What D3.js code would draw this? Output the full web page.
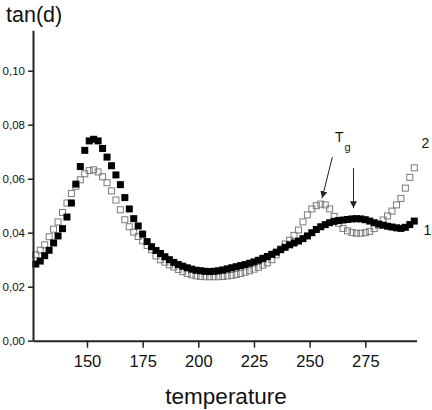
<!DOCTYPE html>
<html>
<head>
<meta charset="utf-8">
<script src="https://cdn.jsdelivr.net/npm/d3@7"></script>
<style>
  body { margin: 0; background: #fff; }
  svg { display: block; font-family: "Liberation Sans", Arial, sans-serif; }
</style>
</head>
<body>
<div id="chart"></div>
<script>
// temperatures of the measured points
var temperature = [127,129,131,133,135,137,139,141,143,145,147,149,151,153,155,157,159,161,163,165,
  167,169,171,173,175,177,179,181,183,185,187,189,191,193,195,197,199,201,203,205,
  207,209,211,213,215,217,219,221,223,225,227,229,231,233,235,237,239,241,243,245,
  247,249,251,253,255,257,259,261,263,265,267,269,271,273,275,277,279,281,283,285,
  287,289,291,293,295,297]

// curve 1, filled squares
var tanFilled = [0.0284,0.0295,0.0315,0.0335,0.0362,0.0388,0.0415,0.0458,0.0510,0.0580,
  0.0645,0.0705,0.0740,0.0746,0.0740,0.0712,0.0680,0.0648,0.0614,0.0578,
  0.0530,0.0488,0.0452,0.0425,0.0395,0.0367,0.0348,0.0334,0.0323,0.0311,
  0.0300,0.0290,0.0282,0.0276,0.0270,0.0265,0.0261,0.0259,0.0257,0.0256,
  0.0257,0.0259,0.0262,0.0266,0.0270,0.0274,0.0278,0.0282,0.0287,0.0292,
  0.0298,0.0305,0.0312,0.0320,0.0328,0.0337,0.0346,0.0355,0.0362,0.0369,
  0.0378,0.0388,0.0400,0.0412,0.0422,0.0430,0.0437,0.0442,0.0445,0.0447,
  0.0449,0.0451,0.0452,0.0451,0.0448,0.0443,0.0437,0.0432,0.0428,0.0424,
  0.0421,0.0418,0.0416,0.0420,0.0430,0.0443]

// curve 2, open squares
var tanOpen = [0.0318,0.0335,0.0355,0.0385,0.0413,0.0440,0.0475,0.0510,0.0545,0.0572,
  0.0596,0.0618,0.0630,0.0633,0.0625,0.0607,0.0585,0.0555,0.0521,0.0485,
  0.0448,0.0422,0.0402,0.0386,0.0370,0.0353,0.0337,0.0314,0.0300,0.0291,
  0.0281,0.0273,0.0264,0.0256,0.0249,0.0244,0.0240,0.0238,0.0237,0.0237,
  0.0237,0.0237,0.0238,0.0240,0.0242,0.0245,0.0249,0.0254,0.0259,0.0265,
  0.0272,0.0280,0.0288,0.0300,0.0318,0.0340,0.0358,0.0372,0.0390,0.0410,
  0.0440,0.0466,0.0488,0.0500,0.0506,0.0503,0.0488,0.0460,0.0435,0.0416,
  0.0407,0.0401,0.0398,0.0398,0.0400,0.0405,0.0415,0.0428,0.0447,0.0462,
  0.0480,0.0503,0.0527,0.0565,0.0605,0.0640]

var xMajor = [150, 175, 200, 225, 250, 275]
var xMinor = [137.5, 162.5, 187.5, 212.5, 237.5, 262.5, 287.5]
var yMajor = [0, 0.02, 0.04, 0.06, 0.08, 0.10]
var yMinor = [0.01, 0.03, 0.05, 0.07, 0.09, 0.11]

// Tg arrows: [fromT, fromTan, toT, toTan]
var arrows = [[260.2, 0.0680, 255.6, 0.0528], [269.7, 0.0639, 269.7, 0.0491]]

var width = 432,
    height = 410

var x = d3.scaleLinear().domain([125.75, 298]).range([33, 416.5])
var y = d3.scaleLinear().domain([0, 0.115]).range([340.7, 30.2])

var svg = d3.select('#chart')
    .append('svg')
    .attr('width', width)
    .attr('height', height)

svg.append('defs').append('marker')
    .attr('id', 'head')
    .attr('viewBox', '0 0 10 10')
    .attr('refX', 10)
    .attr('refY', 5)
    .attr('markerWidth', 7)
    .attr('markerHeight', 7)
    .attr('markerUnits', 'userSpaceOnUse')
    .attr('orient', 'auto')
    .append('path')
    .attr('d', 'M0,0L10,5L0,10z')
    .attr('fill', '#222')

var points = temperature.map(function(t, i) {
    return { t: t, a: tanFilled[i], b: tanOpen[i] }
})

var size = 7

// open squares
svg.append('g').selectAll('rect')
    .data(points)
    .enter()
    .append('rect')
    .attr('x', function(d) { return x(d.t) - size / 2 + 0.5 })
    .attr('y', function(d) { return y(d.b) - size / 2 + 0.5 })
    .attr('width', size - 1)
    .attr('height', size - 1)
    .attr('fill', 'none')
    .attr('stroke', '#7a7a7a')
    .attr('stroke-width', 1)

// filled squares
svg.append('g').selectAll('rect')
    .data(points)
    .enter()
    .append('rect')
    .attr('x', function(d) { return x(d.t) - size / 2 })
    .attr('y', function(d) { return y(d.a) - size / 2 })
    .attr('width', size)
    .attr('height', size)
    .attr('fill', '#000')

var fmt = function(d) { return d3.format('.2f')(d).replace('.', ',') }

// axes
var gx = svg.append('g').attr('transform', 'translate(0,' + y(0) + ')')
gx.call(d3.axisBottom(x).tickValues(xMinor).tickSize(4).tickFormat('').tickSizeOuter(0))
gx.call(d3.axisBottom(x).tickValues(xMajor).tickSize(7).tickPadding(8).tickSizeOuter(0))

var gy = svg.append('g').attr('transform', 'translate(' + x(125.75) + ',0)')
gy.call(d3.axisLeft(y).tickValues(yMinor).tickSize(3).tickFormat('').tickSizeOuter(0))
gy.call(d3.axisLeft(y).tickValues(yMajor).tickSize(5).tickPadding(3).tickFormat(fmt).tickSizeOuter(0))

svg.selectAll('.domain').attr('stroke', '#222').attr('stroke-width', 2)
svg.selectAll('.tick line').attr('stroke', '#222').attr('stroke-width', 1.5)
gx.selectAll('text').attr('font-size', 16.5).attr('fill', '#111').style('font-family', '"Liberation Sans", Arial, sans-serif')
gy.selectAll('text').attr('font-size', 11.5).attr('fill', '#111').style('font-family', '"Liberation Sans", Arial, sans-serif')

// axis titles
svg.append('text')
    .attr('x', 6)
    .attr('y', 22)
    .attr('font-size', 21.5)
    .attr('fill', '#111')
    .text('tan(d)')

svg.append('text')
    .attr('x', 226)
    .attr('y', 404)
    .attr('text-anchor', 'middle')
    .attr('font-size', 22.5)
    .attr('fill', '#111')
    .text('temperature')

// Tg annotation
svg.selectAll('.arrow')
    .data(arrows)
    .enter()
    .append('line')
    .attr('class', 'arrow')
    .attr('x1', function(d) { return x(d[0]) })
    .attr('y1', function(d) { return y(d[1]) })
    .attr('x2', function(d) { return x(d[2]) })
    .attr('y2', function(d) { return y(d[3]) })
    .attr('stroke', '#222')
    .attr('stroke-width', 1)
    .attr('marker-end', 'url(#head)')

var tg = svg.append('text')
    .attr('x', x(261.4))
    .attr('y', y(0.0737))
    .attr('font-size', 14)
    .attr('fill', '#111')
tg.append('tspan').text('T')
tg.append('tspan').attr('font-size', 11).attr('dy', 9).attr('dx', 1).text('g')

svg.append('text')
    .attr('x', x(300.2))
    .attr('y', y(0.0712))
    .attr('font-size', 14)
    .attr('fill', '#111')
    .text('2')

svg.append('text')
    .attr('x', x(301.2))
    .attr('y', y(0.0390))
    .attr('font-size', 14)
    .attr('fill', '#111')
    .text('1')
</script>
</body>
</html>
